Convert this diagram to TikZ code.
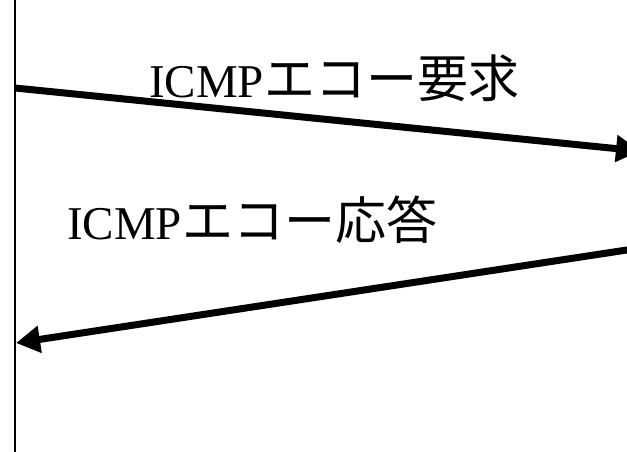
\documentclass[tikz,border=0pt]{standalone}
\usepackage{fontspec}
\setmainfont{Liberation Serif}
\newfontfamily\cjk{Noto Sans CJK JP}
\usetikzlibrary{arrows.meta}
\tikzset{
  msg/.style={line width=7pt, -{Triangle[length=24pt,width=26pt]}},
  lbl/.style={anchor=base west, inner sep=0pt, font=\fontsize{47}{50}\selectfont},
  jp/.style={},
}
\newcommand{\jptext}[1]{{\cjk\fontsize{51}{54}\selectfont #1}}
\begin{document}
\begin{tikzpicture}[x=1pt,y=-1pt]
\useasboundingbox (0,0) rectangle (627,452);
\coordinate (top) at (15,0);
\coordinate (bot) at (15,452);
\draw[line width=2pt] (top) -- (bot);
\coordinate (a1s) at (15,88);
\coordinate (a1e) at (640,151);
\coordinate (a2s) at (640,248);
\coordinate (a2e) at (16,343);
\draw[msg] (a1s) -- (a1e);
\draw[msg] (a2s) -- (a2e);
\node[lbl] (req) at (149,98) {ICMP\jptext{エコー要求}};
\node[lbl] (rep) at (67,239) {ICMP\jptext{エコー応答}};
\end{tikzpicture}
\end{document}
